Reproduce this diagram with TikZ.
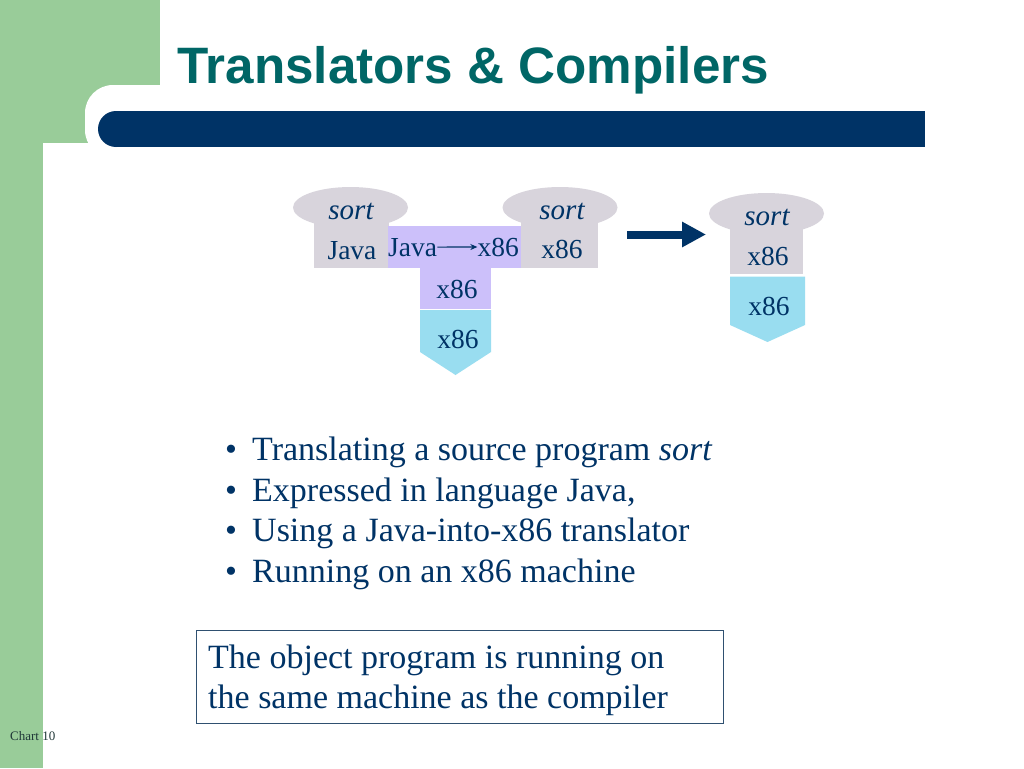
\documentclass[tikz,border=0pt]{standalone}
\usepackage{fontspec}
\setmainfont{Liberation Serif}
\newfontfamily\headfont{Liberation Sans}
\usetikzlibrary{arrows.meta}
\definecolor{navy}{HTML}{003366}
\definecolor{titleteal}{HTML}{006666}
\definecolor{leafgreen}{HTML}{99CC99}
\definecolor{progray}{HTML}{D8D4DC}
\definecolor{translilac}{HTML}{CCC0FA}
\definecolor{machblue}{HTML}{99DDF0}
\definecolor{boxline}{HTML}{2F5070}
\definecolor{chartgray}{HTML}{203838}
\begin{document}
\begin{tikzpicture}[x=1pt,y=-1pt]
\tikzstyle{every node}+=[inner sep=0pt, text=navy]
\tikzstyle{tlabel}=[anchor=base, font=\fontsize{27.5}{30}\selectfont]
\tikzstyle{plabel}=[anchor=base, font=\fontsize{29}{30}\selectfont\itshape]
\tikzstyle{body}=[anchor=base west, font=\fontsize{34}{40}\selectfont]
\useasboundingbox (0,0) rectangle (1024,768);
\fill [white] (0,0) rectangle (1024,768);
\fill [leafgreen] (0,0) rectangle (160,143);
\fill [leafgreen] (0,0) rectangle (43,768);
\fill [white, rounded corners=28pt] (85,85) rectangle (300,158);
\fill [navy] (116,111) rectangle (925,147);
\fill [navy] (116,129) circle (18);
\node [anchor=base west, font=\headfont\bfseries\fontsize{51.2}{60}\selectfont, text=titleteal] (title) at (177,83) {Translators \& Compilers};
% source program
\fill [progray] (350.5,207.5) ellipse (57.5 and 20.5);
\fill [progray] (314,207) rectangle (389,268);
\node [plabel] (srcprog) at (351,219) {sort};
\node [tlabel] (srclang) at (352,259) {Java};
% translator
\fill [translilac] (388,226) rectangle (522,268);
\fill [translilac] (420,268) rectangle (491,308.5);
\node [tlabel, anchor=base west] (trin) at (388,256) {Java};
\node [tlabel, anchor=base east] (trout) at (519,256) {x86};
\draw [navy, line width=1.2pt, -{Stealth[length=7pt,width=6pt]}] (trin.east) -- (trout.west);
\node [tlabel] (trhost) at (457,298) {x86};
\fill [machblue] (420,310) -- (491,310) -- (491,352) -- (455.5,375) -- (420,352) -- cycle;
\node [tlabel] (trmach) at (458,348) {x86};
% object program
\fill [progray] (560,207.5) ellipse (57.5 and 20.5);
\fill [progray] (521,207) rectangle (598,268);
\node [plabel] (objprog) at (562,219) {sort};
\node [tlabel] (objlang) at (562,258) {x86};
% running it
\coordinate (runfrom) at (627,234.5);
\coordinate (runto) at (706,234.5);
\draw [navy, line width=8pt, -{Triangle[length=24pt,width=24pt]}] (runfrom) -- (runto);
\fill [progray] (766.5,213.5) ellipse (57.5 and 20.5);
\fill [progray] (730,213) rectangle (803,274);
\node [plabel] (runprog) at (767,225) {sort};
\node [tlabel] (runlang) at (768,265) {x86};
\fill [machblue] (730,276.5) -- (805,276.5) -- (805,325) -- (767.5,342) -- (730,325) -- cycle;
\node [tlabel] (runmach) at (769,315) {x86};
% bullets
\foreach \y [count=\i] in {460,501,541.5,582}
  \node [body] (dot\i) at (225,\y) {\textbullet};
\node [body] (pt1) at (252,460) {Translating a source program \textit{sort}};
\node [body] (pt2) at (252,501) {Expressed in language Java,};
\node [body] (pt3) at (252,541.5) {Using a Java-into-x86 translator};
\node [body] (pt4) at (252,582) {Running on an x86 machine};
% note
\draw [boxline, line width=1pt] (196,630) rectangle (723,723);
\node [body] (note1) at (208,668) {The object program is running on};
\node [body] (note2) at (208,708) {the same machine as the compiler};
\node [anchor=base west, font=\fontsize{13}{15}\selectfont, text=chartgray] (slideno) at (10,740) {Chart 10};
\end{tikzpicture}
\end{document}
